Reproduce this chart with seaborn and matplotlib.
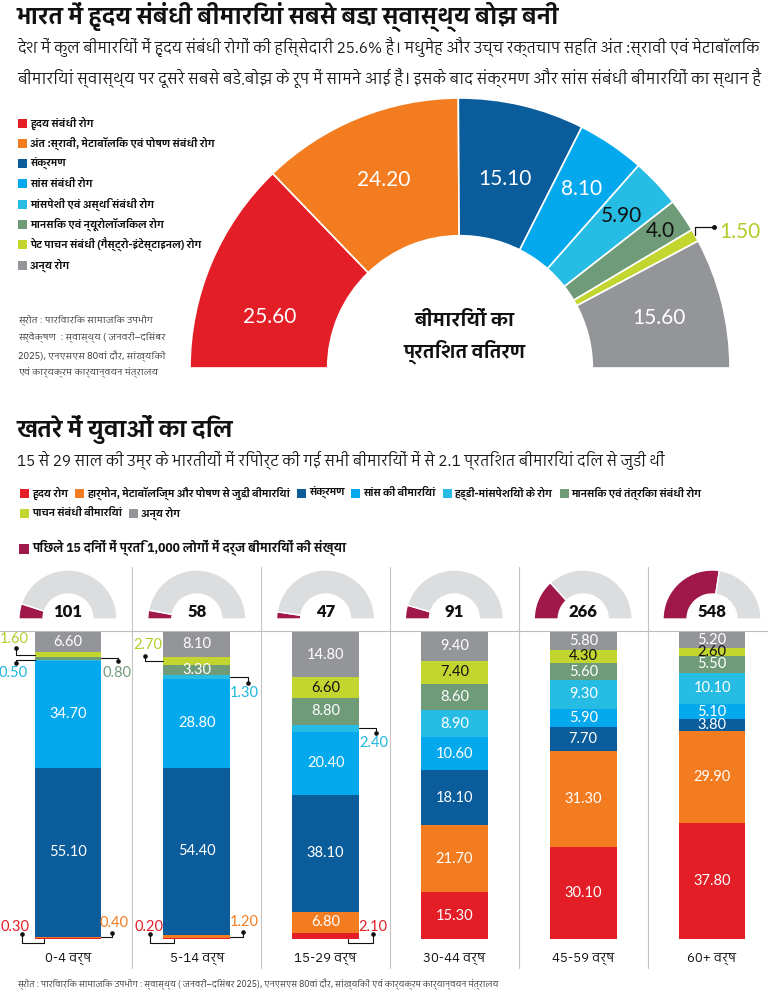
import numpy as np
import pandas as pd
import matplotlib
matplotlib.use("Agg")
import matplotlib.pyplot as plt
import seaborn as sns
from matplotlib import font_manager, ft2font
from matplotlib.patches import Rectangle

# ---------------------------------------------------------------- data
title_top = "भारत में हृदय संबंधी बीमारियां सबसे बड़ा स्वास्थ्य बोझ बनी"
subtitle_top = [
    "देश में कुल बीमारियों में हृदय संबंधी रोगों की हिस्सेदारी 25.6% है। मधुमेह और उच्च रक्तचाप सहित अंत :स्रावी एवं मेटाबॉलिक",
    "बीमारियां स्वास्थ्य पर दूसरे सबसे बड़े बोझ के रूप में सामने आई हैं। इसके बाद संक्रमण और सांस संबंधी बीमारियों का स्थान है",
]
donut_categories = [
    "हृदय संबंधी रोग",
    "अंत :स्रावी, मेटाबॉलिक एवं पोषण संबंधी रोग",
    "संक्रमण",
    "सांस संबंधी रोग",
    "मांसपेशी एवं अस्थि संबंधी रोग",
    "मानसिक एवं न्यूरोलॉजिकल रोग",
    "पेट पाचन संबंधी (गैस्ट्रो-इंटेस्टाइनल) रोग",
    "अन्य रोग",
]
donut_values = [25.6, 24.2, 15.1, 8.1, 5.9, 4.0, 1.5, 15.6]
donut_labels = ["25.60", "24.20", "15.10", "8.10", "5.90", "4.0", "1.50", "15.60"]
donut_center_text = ["बीमारियों का", "प्रतिशत वितरण"]
source_top = [
    "स्रोत : पारिवारिक सामाजिक उपभोग",
    "सर्वेक्षण  : स्वास्थ्य ( जनवरी–दिसंबर",
    "2025), एनएसएस 80वां दौर, सांख्यिकी",
    "एवं कार्यक्रम कार्यान्वयन मंत्रालय",
]

title_bottom = "खतरे में युवाओं का दिल"
subtitle_bottom = "15 से 29 साल की उम्र के भारतीयों में रिपोर्ट की गई सभी बीमारियों में से 2.1 प्रतिशत बीमारियां दिल से जुड़ी थीं"
bar_categories = [
    "हृदय रोग",
    "हार्मोन, मेटाबॉलिज्म और पोषण से जुड़ी बीमारियां",
    "संक्रमण",
    "सांस की बीमारियां",
    "हड्डी-मांसपेशियों के रोग",
    "मानसिक एवं तंत्रिका संबंधी रोग",
    "पाचन संबंधी बीमारियां",
    "अन्य रोग",
]
age_groups = ["0-4 वर्ष", "5-14 वर्ष", "15-29 वर्ष", "30-44 वर्ष", "45-59 वर्ष", "60+ वर्ष"]
heart = [0.30, 0.20, 2.10, 15.30, 30.10, 37.80]
hormone = [0.40, 1.20, 6.80, 21.70, 31.30, 29.90]
infection = [55.10, 54.40, 38.10, 18.10, 7.70, 3.80]
respiratory = [34.70, 28.80, 20.40, 10.60, 5.90, 5.10]
musculo = [0.50, 1.30, 2.40, 8.90, 9.30, 10.10]
mental = [0.80, 3.30, 8.80, 8.60, 5.60, 5.50]
digestive = [1.60, 2.70, 6.60, 7.40, 4.30, 2.60]
other = [6.60, 8.10, 14.80, 9.40, 5.80, 5.20]
illness_per_1000 = [101, 58, 47, 91, 266, 548]
gauge_max = 1000
count_legend = "पिछले 15 दिनों में प्रति 1,000 लोगों में दर्ज बीमारियों की संख्या"
footer = ("स्रोत : पारिवारिक सामाजिक उपभोग : स्वास्थ्य ( जनवरी–दिसंबर 2025), एनएसएस 80वां दौर, "
          "सांख्यिकी एवं कार्यक्रम कार्यान्वयन मंत्रालय")

# ---------------------------------------------------------------- style
COLORS = ["#E31E26", "#F47C20", "#0B5C9B", "#03A9EC", "#27BCE3", "#6F9B78", "#C2D62F", "#939598"]
LABEL_COLORS = ["#E31E26", "#F47C20", "#0B5C9B", "#1BB3E6", "#1DB7E0", "#6F9B78", "#B4CC2A", "#939598"]
MAROON = "#A0184A"
GAUGE_BG = "#DCDDDE"

sns.set_style("white")


def find_devanagari():
    fams = {}
    for f in font_manager.fontManager.ttflist:
        try:
            cm = ft2font.FT2Font(f.fname).get_charmap()
        except Exception:
            continue
        if 0x0915 in cm and 0x093F in cm:
            fams.setdefault(f.name, 0)
            fams[f.name] += 1
    if not fams:
        return None

    def score(n):
        s = 0
        if "Devanagari" in n:
            s += 10
        if "Sans" in n:
            s += 5
        if "UI" in n:
            s -= 2
        return s + fams[n] * 0.1
    return sorted(fams, key=score, reverse=True)[0]


DEVA = find_devanagari() or "DejaVu Sans"
names = {f.name for f in font_manager.fontManager.ttflist}
NUM = "Lato" if "Lato" in names else DEVA
FAM = [DEVA, "DejaVu Sans"]
plt.rcParams["font.family"] = FAM

W, H = 768, 991
fig = plt.figure(figsize=(W / 100, H / 100), dpi=100)
ax0 = fig.add_axes([0, 0, 1, 1])
ax0.set_xlim(0, W)
ax0.set_ylim(H, 0)
ax0.axis("off")
REN = fig.canvas.get_renderer()


def fit(t, width):
    bb = t.get_window_extent(REN)
    if bb.width > 0:
        t.set_fontsize(t.get_fontsize() * width / bb.width)
    return t


# ---------------------------------------------------------------- top header
fit(ax0.text(17, 17, title_top, fontsize=20, fontweight="heavy", color="#111111",
             va="center", ha="left"), 549)
for y, line in zip([47, 78], subtitle_top):
    fit(ax0.text(17, y, line, fontsize=12, color="#1a1a1a", va="center", ha="left"), 737)

# top legend
t_ref = ax0.text(29, 143, donut_categories[1], fontsize=8, fontweight="bold", va="center")
fit(t_ref, 183)
leg_fs = t_ref.get_fontsize()
t_ref.remove()
for k, (cat, col) in enumerate(zip(donut_categories, COLORS)):
    y = 123 + k * 20.3
    ax0.add_patch(Rectangle((18, y - 4.5), 9, 9, color=col, lw=0))
    ax0.text(30, y, cat, fontsize=leg_fs, fontweight="bold", color="#111111", va="center")

# top source
t_ref = ax0.text(18, 357, source_top[2], fontsize=7, va="center")
fit(t_ref, 147)
src_fs = t_ref.get_fontsize()
t_ref.remove()
for y, line in zip([320, 338, 356, 373], source_top):
    ax0.text(18, y, line, fontsize=src_fs, color="#333333", va="center")

# ---------------------------------------------------------------- donut
axd = fig.add_axes([190 / W, 1 - 368 / H, 540 / W, 270 / H])
wedges, _ = axd.pie(donut_values + [sum(donut_values)], colors=COLORS + ["white"],
                    startangle=180, counterclock=False, radius=1,
                    wedgeprops=dict(width=0.51, edgecolor="white", linewidth=1.2))
wedges[-1].set_visible(False)
axd.set_aspect("auto")
axd.set_xlim(-1, 1)
axd.set_ylim(0, 1)
axd.axis("off")

label_r = [0.73, 0.75, 0.72, 0.80, 0.82, 0.90, 1.0, 0.76]
label_shift = [8, 0, 0, 0, 0, 0, 0, 0]
label_col = ["white", "white", "white", "white", "#111111", "#111111", LABEL_COLORS[6], "white"]
cum = np.concatenate([[0], np.cumsum(donut_values)[:-1]])
for k, v in enumerate(donut_values):
    ang = np.deg2rad(180 - 1.8 * (cum[k] + v / 2) + label_shift[k])
    if k == 6:
        x0, y0 = np.cos(ang), np.sin(ang)
        axd.plot([x0, x0, 0.94], [y0, 0.522, 0.522], color="#111111", lw=0.9, clip_on=False)
        axd.plot([0.94], [0.522], "o", ms=2.5, color="#111111", clip_on=False)
        axd.text(0.962, 0.505, donut_labels[k], fontsize=15, color=label_col[k], family=NUM,
                 ha="left", va="center")
        continue
    r = label_r[k]
    axd.text(r * np.cos(ang), r * np.sin(ang), donut_labels[k], fontsize=15, color=label_col[k],
             family=NUM, ha="center", va="center")

t1 = axd.text(0.015, 0.178, donut_center_text[0], fontsize=15, fontweight="heavy", ha="center",
              va="center", color="#111111")
fit(t1, 101)
t2 = axd.text(0.015, 0.06, donut_center_text[1], fontsize=15, fontweight="heavy", ha="center",
              va="center", color="#111111")
fit(t2, 123)

# ---------------------------------------------------------------- bottom header
fit(ax0.text(17, 430, title_bottom, fontsize=20, fontweight="heavy", color="#111111",
             va="center"), 219)
fit(ax0.text(17, 461, subtitle_bottom, fontsize=12, color="#1a1a1a", va="center"), 641)

# legend rows (sequential layout)
SQ, PAD, GAP = 9, 3, 7
row1 = list(range(6))
row2 = [6, 7]
probe = [ax0.text(0, -50, bar_categories[k], fontsize=8, fontweight="bold") for k in row1]
wsum = sum(t.get_window_extent(REN).width for t in probe)
for t in probe:
    t.remove()
fs_leg2 = 8 * (689 - len(row1) * (SQ + PAD) - GAP * (len(row1) - 1)) / wsum
for row, y in [(row1, 493), (row2, 513)]:
    x = 20
    for k in row:
        ax0.add_patch(Rectangle((x, y - 4.5), SQ, SQ, color=COLORS[k], lw=0))
        t = ax0.text(x + SQ + PAD, y, bar_categories[k], fontsize=fs_leg2, fontweight="bold",
                     color="#111111", va="center")
        x += SQ + PAD + t.get_window_extent(REN).width + GAP

ax0.add_patch(Rectangle((19, 543.5), 10, 10, color=MAROON, lw=0))
fit(ax0.text(32, 548, count_legend, fontsize=9, fontweight="bold", color="#111111",
             va="center"), 313)

# ---------------------------------------------------------------- stacked bars
series = [heart, hormone, infection, respiratory, musculo, mental, digestive, other]
df = pd.DataFrame({cat: vals for cat, vals in zip(bar_categories, series)}, index=age_groups)
SPAN = 128.8
BW = 0.52
axb = fig.add_axes([0, 1 - 939 / H, 1, 307 / H])
bottom = np.zeros(len(age_groups))
for cat, col in zip(bar_categories, COLORS):
    vals = df[cat].to_numpy()
    sns.barplot(x=age_groups, y=vals, order=age_groups, color=col, saturation=1,
                width=BW, errorbar=None, bottom=bottom.copy(), linewidth=0, ax=axb)
    bottom += vals
axb.set_xlim(-68 / SPAN, (W - 68) / SPAN)
axb.set_ylim(0, 100)
axb.axis("off")

# separators and gauges positioned from the bar axis scale
to_px = lambda xd: axb.transData.transform((xd, 0))[0]
for i in range(len(age_groups) - 1):
    xs = to_px(i + 0.5)
    ax0.plot([xs, xs], [567, 968], color="#C4C4C4", lw=0.8, zorder=0)
ax0.plot([0, W], [631, 631], color="#BDBDBD", lw=0.8, zorder=0)

for i, v in enumerate(illness_per_1000):
    xc = to_px(i)
    axg = fig.add_axes([(xc - 50) / W, 1 - 619 / H, 100 / W, 50 / H])
    wg, _ = axg.pie([v, gauge_max - v, gauge_max], colors=[MAROON, GAUGE_BG, "white"],
                    startangle=180, counterclock=False, radius=1,
                    wedgeprops=dict(width=0.49, edgecolor="white", linewidth=1))
    wg[-1].set_visible(False)
    axg.set_aspect("auto")
    axg.set_xlim(-50 / 49, 50 / 49)
    axg.set_ylim(0, 50 / 49)
    axg.axis("off")
    axg.text(0, 0.14, f"{v}", ha="center", va="center", fontsize=12, fontweight="heavy",
             family=NUM, color="#111111")

# outside labels: (col, seg, kind, dot_dx from edge, dot_y, text_y, text_dx, bracket_dx)
outside = [
    (0, 6, "side", -0.14, 94.8, 97.6, -0.02, 0),
    (0, 4, "side", -0.14, 89.9, 86.6, -0.03, 0),
    (0, 5, "side", 0.132, 90.6, 86.6, -0.015, 0),
    (0, 0, "bracket", -0.10, 1.6, 3.9, -0.05, 0.07),
    (0, 1, "side", 0.085, 2.0, 5.2, 0.015, 0),
    (1, 6, "side", -0.14, 92.2, 95.8, 0.02, 0),
    (1, 4, "side", 0.14, 83.4, 80.1, -0.03, 0),
    (1, 0, "bracket", -0.10, 1.6, 3.9, -0.015, 0.085),
    (1, 1, "side", 0.10, 2.3, 5.5, 0.01, 0),
    (2, 4, "side", 0.132, 67.1, 63.8, -0.02, 0),
    (2, 0, "bracket", 0.11, 1.6, 3.9, 0.0, -0.085),
]
outside_keys = {(c, s) for c, s, *_ in outside}
cumb = np.zeros(len(age_groups))
mids = []
for vals in series:
    mids.append(cumb + np.array(vals) / 2)
    cumb = cumb + np.array(vals)

for k, vals in enumerate(series):
    for i, v in enumerate(vals):
        if (i, k) in outside_keys:
            continue
        axb.text(i, mids[k][i], f"{v:.2f}", ha="center", va="center", fontsize=10.5, family=NUM,
                 color="#111111" if k == 6 else "white", clip_on=False)

for c, s, kind, ddx, dy, ty, tdx, bdx in outside:
    edge = c - BW / 2 if ddx < 0 else c + BW / 2
    dx = edge + ddx
    if kind == "side":
        ym = mids[s][c]
        axb.plot([edge, dx, dx], [ym, ym, dy], color="#111111", lw=0.8, clip_on=False)
    else:
        bx = edge + bdx
        axb.plot([dx, dx, bx, bx], [dy, -1.3, -1.3, 0], color="#111111", lw=0.8, clip_on=False)
    axb.plot([dx], [dy], "o", ms=2.3, color="#111111", clip_on=False)
    axb.text(dx + tdx, ty, f"{series[s][c]:.2f}", ha="center", va="center", fontsize=10.5,
             family=NUM, color=LABEL_COLORS[s], clip_on=False)

# age labels
t_ref = axb.text(3, -6.2, age_groups[3], fontsize=11, ha="center", va="center")
fit(t_ref, 62)
age_fs = t_ref.get_fontsize()
t_ref.remove()
for i, a in enumerate(age_groups):
    axb.text(i, -6.2, a, fontsize=age_fs, ha="center", va="center", color="#111111",
             clip_on=False)

fit(ax0.text(17, 984, footer, fontsize=7, color="#333333", va="center"), 487)

fig.savefig("out.png", dpi=100)
